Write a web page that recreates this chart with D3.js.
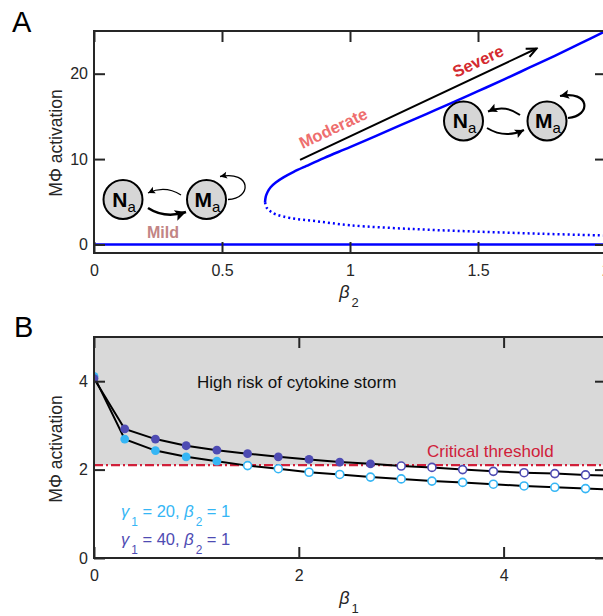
<!DOCTYPE html>
<html>
<head>
<meta charset="utf-8">
<script src="https://cdn.jsdelivr.net/npm/d3@7"></script>
<style>
body { margin: 0; background: #fff; }
text { font-family: "Liberation Sans", Arial, Helvetica, sans-serif; }
</style>
</head>
<body>
<div class="chart"></div>
<script>
const WIDTH = 603;
const HEIGHT = 616;

// ---- panel A : bifurcation in beta2 ----
var upperBeta = [0.668, 0.671, 0.678, 0.69, 0.71, 0.74, 0.78, 0.83, 0.9, 1.0, 1.1, 1.2, 1.3, 1.4, 1.5, 1.6, 1.7, 1.8, 1.9, 2.0];
var upperAct  = [4.94, 5.6, 6.15, 6.7, 7.25, 7.85, 8.5, 9.2, 10.15, 11.4, 12.7, 14.0, 15.3, 16.6, 17.95, 19.3, 20.7, 22.1, 23.55, 25.0];
var lowerBeta = [0.668, 0.675, 0.69, 0.713, 0.766, 0.87, 1.0, 1.25, 1.5, 1.75, 2.0];
var lowerAct  = [4.94, 4.28, 3.85, 3.5, 3.1, 2.72, 2.25, 1.8, 1.5, 1.25, 1.05];
var zeroBeta  = [0, 2];
var zeroAct   = [0, 0];
var xTicksA = [0, 0.5, 1, 1.5, 2];
var yTicksA = [0, 10, 20];

// ---- panel B : activation vs beta1 ----
var beta1 = [0, 0.3, 0.6, 0.9, 1.2, 1.5, 1.8, 2.1, 2.4, 2.7, 3.0, 3.3, 3.6, 3.9, 4.2, 4.5, 4.8, 5.1];
var act20 = [4.11, 2.69, 2.43, 2.29, 2.19, 2.09, 2.02, 1.94, 1.89, 1.83, 1.79, 1.74, 1.71, 1.67, 1.63, 1.60, 1.57, 1.54];
var act40 = [4.06, 2.92, 2.69, 2.54, 2.44, 2.36, 2.29, 2.23, 2.17, 2.13, 2.08, 2.05, 2.00, 1.96, 1.93, 1.91, 1.88, 1.86];
var threshold = 2.1;
var xTicksB = [0, 2, 4];
var yTicksB = [0, 2, 4];

var AXIS = "#262626";
var LIGHT = "#35B6F5";
var DARK = "#4E4BB3";

var translate = function (x, y) {
    return "translate(" + x + "," + y + ")";
};

var svg = d3.select('.chart').append('svg')
    .attr('width', WIDTH)
    .attr('height', HEIGHT);

var defs = svg.append("defs");

var headDef = function (id, len, half) {
    defs.append("marker")
        .attr("id", id)
        .attr("markerUnits", "userSpaceOnUse")
        .attr("viewBox", (-len - 1) + " " + (-half - 1) + " " + (len + 2) + " " + (2 * half + 2))
        .attr("markerWidth", len + 2)
        .attr("markerHeight", 2 * half + 2)
        .attr("refX", 0).attr("refY", 0)
        .attr("orient", "auto")
        .append("path")
        .attr("d", "M0,0L" + (-len) + "," + (-half) + "L" + (-len * 0.8) + ",0L" + (-len) + "," + half + "Z")
        .attr("fill", "#000");
};
headDef("hSmall", 7, 3.5);
headDef("hMid", 9, 4.5);
headDef("hBig", 11, 5.5);

defs.append("marker")
    .attr("id", "hOpen")
    .attr("markerUnits", "userSpaceOnUse")
    .attr("viewBox", "-12 -7 14 14")
    .attr("markerWidth", 14).attr("markerHeight", 14)
    .attr("refX", 0).attr("refY", 0)
    .attr("orient", "auto")
    .append("path")
    .attr("d", "M-10,-4.5L0,0L-10,4.5")
    .attr("fill", "none").attr("stroke", "#000").attr("stroke-width", 2);

var clip = function (id, x, y) {
    defs.append("clipPath").attr("id", id)
        .append("rect")
        .attr("x", x.range()[0]).attr("y", y.range()[1])
        .attr("width", x.range()[1] - x.range()[0])
        .attr("height", y.range()[0] - y.range()[1]);
};

var drawAxes = function (x, y, xt, yt) {
    var g = svg.append("g");
    var y0 = y.range()[0], y1 = y.range()[1], x0 = x.range()[0], x1 = x.range()[1];
    var fmt = function (d) { return d; };
    g.append("g").attr("transform", translate(0, y0))
        .call(d3.axisBottom(x).tickValues(xt).tickSize(-11).tickSizeOuter(0).tickPadding(12).tickFormat(fmt));
    g.append("g").attr("transform", translate(0, y1))
        .call(d3.axisTop(x).tickValues(xt).tickSize(-11).tickSizeOuter(0).tickFormat(""));
    g.append("g").attr("transform", translate(x0, 0))
        .call(d3.axisLeft(y).tickValues(yt).tickSize(-11).tickSizeOuter(0).tickPadding(6).tickFormat(fmt));
    g.append("g").attr("transform", translate(x1, 0))
        .call(d3.axisRight(y).tickValues(yt).tickSize(-11).tickSizeOuter(0).tickFormat(""));
    g.selectAll(".domain").remove();
    g.selectAll(".tick line").attr("stroke", AXIS).attr("stroke-width", 2);
    g.selectAll("text").attr("font-size", 16).attr("fill", AXIS)
        .attr("font-family", "Liberation Sans, Arial, sans-serif");
    g.append("rect")
        .attr("x", x0).attr("y", y1)
        .attr("width", x1 - x0).attr("height", y0 - y1)
        .attr("fill", "none").attr("stroke", AXIS).attr("stroke-width", 2);
};

var yLabel = function (x, y) {
    svg.append("text")
        .attr("transform", translate(x, y) + " rotate(-90)")
        .attr("text-anchor", "middle")
        .attr("font-size", 17.5)
        .attr("fill", AXIS)
        .text("M\u03A6 activation");
};

var subText = function (sel, parts) {
    // parts: [text, italic, sub]
    parts.forEach(function (p, i) {
        var prevSub = i > 0 && parts[i - 1][2];
        var t = sel.append("tspan").text(p[0]);
        if (p[1]) t.attr("font-style", "italic");
        if (p[2]) t.attr("font-size", "0.72em").attr("dy", 9).attr("dx", 2);
        else if (prevSub) t.attr("dy", -9);
    });
};

// ================= PANEL A =================
var xA = d3.scaleLinear().domain([0, 2]).range([94, 606]);
var yA = d3.scaleLinear().domain([-1, 25]).range([253, 31]);
clip("clipA", xA, yA);

var lineA = d3.line()
    .x(function (d) { return xA(d[0]); })
    .y(function (d) { return yA(d[1]); });

var gA = svg.append("g").attr("clip-path", "url(#clipA)");
gA.append("path").datum(d3.zip(zeroBeta, zeroAct))
    .attr("d", lineA)
    .attr("fill", "none").attr("stroke", "#0000FF").attr("stroke-width", 2.5);
gA.append("path").datum(d3.zip(upperBeta, upperAct))
    .attr("d", lineA.curve(d3.curveCatmullRom))
    .attr("fill", "none").attr("stroke", "#0000FF").attr("stroke-width", 2.5);
gA.append("path").datum(d3.zip(lowerBeta, lowerAct))
    .attr("d", lineA.curve(d3.curveCatmullRom))
    .attr("fill", "none").attr("stroke", "#0000FF").attr("stroke-width", 2.5)
    .attr("stroke-dasharray", "2,3");

drawAxes(xA, yA, xTicksA, yTicksA);

// progression arrow
var arrowFrom = [0.805, 9.9], arrowTo = [1.729, 22.95];
svg.append("line")
    .attr("x1", xA(arrowFrom[0])).attr("y1", yA(arrowFrom[1]))
    .attr("x2", xA(arrowTo[0])).attr("y2", yA(arrowTo[1]))
    .attr("stroke", "#000").attr("stroke-width", 2)
    .attr("marker-end", "url(#hOpen)");

var ang = Math.atan2(yA(arrowTo[1]) - yA(arrowFrom[1]), xA(arrowTo[0]) - xA(arrowFrom[0])) * 180 / Math.PI;
svg.append("text")
    .attr("transform", translate(333, 128) + " rotate(" + ang + ")")
    .attr("text-anchor", "middle").attr("dominant-baseline", "central")
    .attr("font-size", 16.5).attr("font-weight", "bold").attr("fill", "#EE6E6E")
    .text("Moderate");
svg.append("text")
    .attr("transform", translate(478, 61) + " rotate(" + ang + ")")
    .attr("text-anchor", "middle").attr("dominant-baseline", "central")
    .attr("font-size", 16.5).attr("font-weight", "bold").attr("fill", "#D42A30")
    .text("Severe");
svg.append("text")
    .attr("x", 163).attr("y", 238)
    .attr("text-anchor", "middle")
    .attr("font-size", 16).attr("font-weight", "bold").attr("fill", "#C28585")
    .text("Mild");

// small network sketches
var node = function (cx, cy, letter) {
    svg.append("circle").attr("cx", cx).attr("cy", cy).attr("r", 19.5)
        .attr("fill", "#D6D6D6").attr("stroke", "#000").attr("stroke-width", 2);
    var t = svg.append("text").attr("x", cx + 1).attr("y", cy + 7)
        .attr("text-anchor", "middle").attr("fill", "#000");
    t.append("tspan").text(letter).attr("font-size", 21).attr("font-weight", "bold");
    t.append("tspan").text("a").attr("font-size", 15).attr("dy", 5);
};
var curveArrow = function (d, w, head) {
    svg.append("path").attr("d", d)
        .attr("fill", "none").attr("stroke", "#000").attr("stroke-width", w)
        .attr("marker-end", "url(#" + head + ")");
};

node(123, 199.5, "N");
node(206.5, 199.5, "M");
curveArrow("M181,195 Q165,185 148,193", 1.3, "hSmall");
curveArrow("M148,208 Q165,219 186,212", 2.6, "hBig");
curveArrow("M228,199.5 C252,199 252,170 220,176.5", 1.3, "hSmall");

node(463.5, 121, "N");
node(547, 121, "M");
curveArrow("M520,115 Q505,104 488,111.5", 2, "hMid");
curveArrow("M487,128 Q505,139 524,130", 2, "hMid");
curveArrow("M568,118 C592,116 590,90 560,96", 2.2, "hMid");

yLabel(62, 143);
var xlabA = svg.append("text").attr("x", 349).attr("y", 298)
    .attr("text-anchor", "middle").attr("font-size", 18).attr("fill", AXIS);
subText(xlabA, [["\u03B2", true, false], ["2", false, true]]);

svg.append("text").attr("x", 12).attr("y", 32)
    .attr("font-size", 29).attr("fill", "#000").text("A");

// ================= PANEL B =================
var xB = d3.scaleLinear().domain([0, 5]).range([94, 606]);
var yB = d3.scaleLinear().domain([0, 5]).range([558, 337]);
clip("clipB", xB, yB);

var gB = svg.append("g").attr("clip-path", "url(#clipB)");
gB.append("rect")
    .attr("x", xB(0)).attr("y", yB(5))
    .attr("width", xB(5) - xB(0)).attr("height", yB(threshold) - yB(5))
    .attr("fill", "#D9D9D9");
gB.append("line")
    .attr("x1", xB(0)).attr("x2", xB(5))
    .attr("y1", yB(threshold)).attr("y2", yB(threshold))
    .attr("stroke", "#D0203A").attr("stroke-width", 2.2)
    .attr("stroke-dasharray", "9,3,2,3");

var lineB = d3.line()
    .x(function (d) { return xB(d[0]); })
    .y(function (d) { return yB(d[1]); });

var series = [
    { vals: act20, color: LIGHT },
    { vals: act40, color: DARK }
];
series.forEach(function (s) {
    gB.append("path").datum(d3.zip(beta1, s.vals))
        .attr("d", lineB)
        .attr("fill", "none").attr("stroke", "#000").attr("stroke-width", 2);
});
series.forEach(function (s) {
    gB.selectAll(null)
        .data(d3.zip(beta1, s.vals))
        .enter()
        .append("circle")
        .attr("cx", function (d) { return xB(d[0]); })
        .attr("cy", function (d) { return yB(d[1]); })
        .attr("r", function (d) { return d[1] > threshold ? 4.4 : 4; })
        .attr("fill", function (d) { return d[1] > threshold ? s.color : "#fff"; })
        .attr("stroke", s.color)
        .attr("stroke-width", function (d) { return d[1] > threshold ? 0 : 1.6; });
});

drawAxes(xB, yB, xTicksB, yTicksB);

svg.append("text").attr("x", 197).attr("y", 388)
    .attr("font-size", 17).attr("fill", "#111")
    .text("High risk of cytokine storm");
svg.append("text").attr("x", 427).attr("y", 457)
    .attr("font-size", 17).attr("fill", "#D0203A")
    .text("Critical threshold");

var leg1 = svg.append("text").attr("x", 121).attr("y", 517)
    .attr("font-size", 16.5).attr("fill", LIGHT);
subText(leg1, [["\u03B3", true, false], ["1", false, true], [" = 20, ", false, false], ["\u03B2", true, false], ["2", false, true], [" = 1", false, false]]);
var leg2 = svg.append("text").attr("x", 121).attr("y", 545)
    .attr("font-size", 16.5).attr("fill", DARK);
subText(leg2, [["\u03B3", true, false], ["1", false, true], [" = 40, ", false, false], ["\u03B2", true, false], ["2", false, true], [" = 1", false, false]]);

yLabel(62, 449);
var xlabB = svg.append("text").attr("x", 349).attr("y", 604)
    .attr("text-anchor", "middle").attr("font-size", 18).attr("fill", AXIS);
subText(xlabB, [["\u03B2", true, false], ["1", false, true]]);

svg.append("text").attr("x", 14).attr("y", 337)
    .attr("font-size", 29).attr("fill", "#000").text("B");
</script>
</body>
</html>
